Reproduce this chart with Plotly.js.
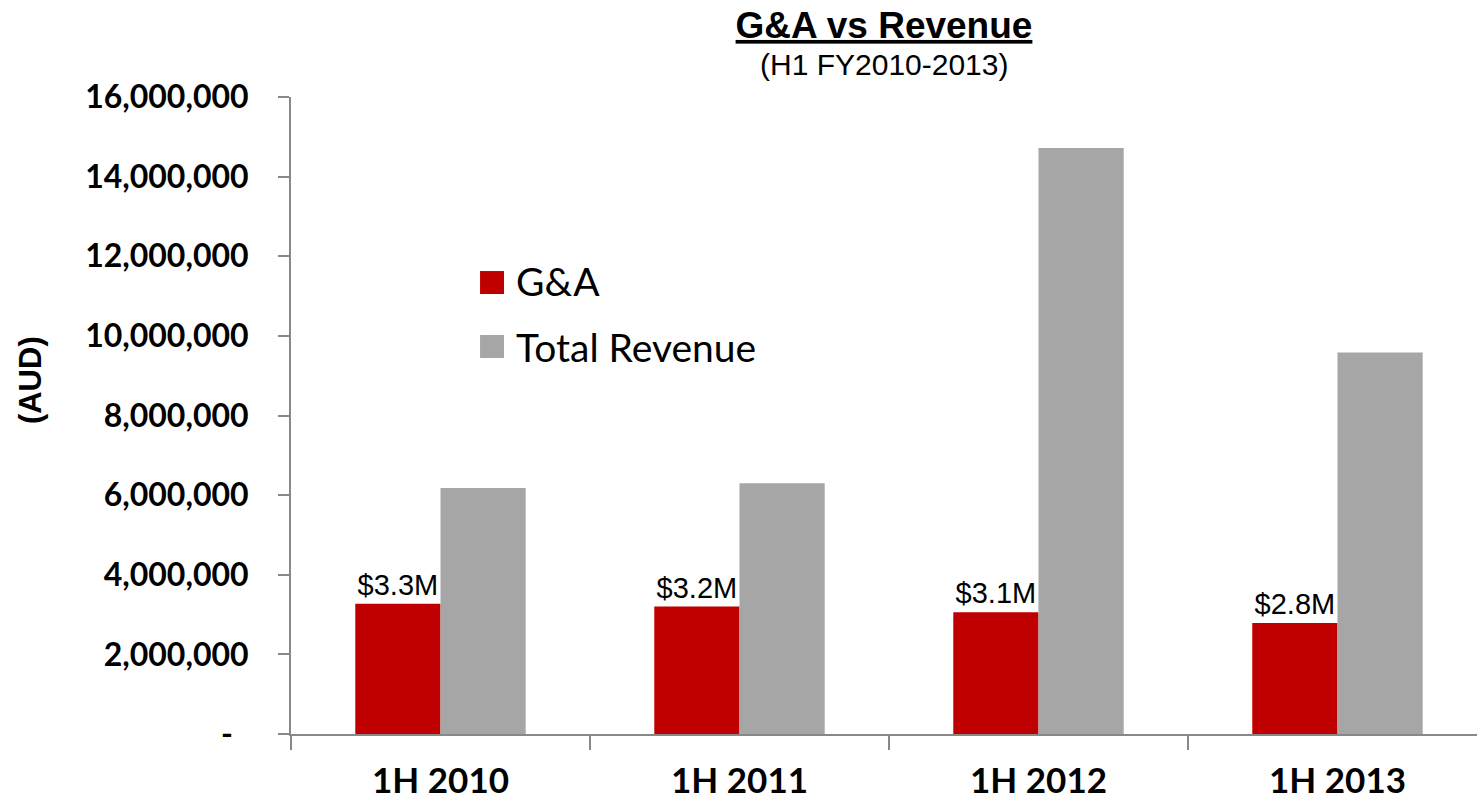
<!DOCTYPE html>
<html>
<head>
<meta charset="utf-8">
<script src="https://cdn.plot.ly/plotly-3.0.1.min.js"></script>
<style>html,body{margin:0;padding:0;background:#fff;}#chart{width:1477px;height:805px;}</style>
</head>
<body>
<div id="chart"></div>
<script>
// ---- data ----
const categories = ["1H 2010", "1H 2011", "1H 2012", "1H 2013"];
const gaValues = [3270000, 3200000, 3060000, 2790000];
const revenueValues = [6180000, 6300000, 14720000, 9580000];
const gaLabels = ["$3.3M", "$3.2M", "$3.1M", "$2.8M"];
const yTickVals = [0, 2000000, 4000000, 6000000, 8000000, 10000000, 12000000, 14000000, 16000000];
const yTickText = ["-\u00a0\u00a0", "2,000,000", "4,000,000", "6,000,000", "8,000,000", "10,000,000", "12,000,000", "14,000,000", "16,000,000"];
const seriesNames = ["G&A", "Total Revenue"];
const seriesColors = ["#C00000", "#A6A6A6"];

const calibriLike = "Lato, 'Open Sans', sans-serif";
const arialLike = "'Liberation Sans', Arial, sans-serif";

const traces = [
  {
    type: "bar", name: seriesNames[0], x: categories, y: gaValues,
    marker: {color: seriesColors[0]},
    text: gaLabels, textposition: "outside", constraintext: "none", cliponaxis: false,
    textfont: {family: arialLike, size: 29, color: "#000"},
    hoverinfo: "x+y"
  },
  {
    type: "bar", name: seriesNames[1], x: categories, y: revenueValues,
    marker: {color: seriesColors[1]},
    hoverinfo: "x+y"
  }
];

// custom legend (paper coordinates)
const legendX0 = 0.1594, legendX1 = 0.1796, legendTextX = 0.1880;
const legendRows = [{y0: 0.6907, y1: 0.7268, ty: 0.7112}, {y0: 0.5903, y1: 0.6264, ty: 0.6081}];
const shapes = legendRows.map((r, i) => ({
  type: "rect", xref: "paper", yref: "paper",
  x0: legendX0, x1: legendX1, y0: r.y0, y1: r.y1,
  fillcolor: seriesColors[i], line: {width: 0}
}));
const annotations = legendRows.map((r, i) => ({
  xref: "paper", yref: "paper", x: legendTextX, y: r.ty,
  xanchor: "left", yanchor: "middle", showarrow: false,
  text: seriesNames[i].replace("&", "&amp;"),
  font: {family: calibriLike, size: 39, color: "#000"}
}));
annotations.push({
  xref: "paper", yref: "paper", x: 0.5, y: 1.0518, xanchor: "center", yanchor: "middle",
  showarrow: false, text: "(H1 FY2010-2013)",
  font: {family: arialLike, size: 30, color: "#000"}
});
annotations.push({
  xref: "paper", yref: "paper", x: -0.22, y: 0.5557, xanchor: "center", yanchor: "middle",
  showarrow: false, textangle: -90, text: "<b>(AUD)</b>",
  font: {family: arialLike, size: 31, color: "#000"}
});

const layout = {
  width: 1477, height: 805,
  margin: {l: 291, r: 0, t: 97, b: 71},
  paper_bgcolor: "#fff", plot_bgcolor: "#fff",
  showlegend: false,
  barmode: "group", bargap: 0.43, bargroupgap: 0,
  title: {
    text: "<b><u>G&amp;A vs Revenue</u></b>",
    x: 0.5, xref: "paper", xanchor: "center",
    y: 1 - 25 / 805, yref: "container", yanchor: "middle",
    font: {family: arialLike, size: 37, color: "#000"}
  },
  xaxis: {
    type: "category", range: [-0.5, 3.4666],
    showline: true, linecolor: "#888", linewidth: 2,
    ticks: "outside", tickson: "boundaries", ticklen: 14, tickwidth: 2, tickcolor: "#888",
    tickfont: {family: calibriLike, size: 35, color: "#000", weight: "bold"},
    ticklabelstandoff: 15,
    showgrid: false, zeroline: false, fixedrange: true
  },
  yaxis: {
    range: [0, 16000000],
    tickvals: yTickVals, ticktext: yTickText,
    showline: true, linecolor: "#888", linewidth: 2,
    ticks: "outside", ticklen: 11, tickwidth: 2, tickcolor: "#888",
    tickfont: {family: calibriLike, size: 32, color: "#000", weight: "bold"},
    ticklabelstandoff: 23,
    showgrid: false, zeroline: false, fixedrange: true
  },
  shapes: shapes,
  annotations: annotations
};

Plotly.newPlot("chart", traces, layout, {displayModeBar: false, staticPlot: true});
</script>
</body>
</html>
